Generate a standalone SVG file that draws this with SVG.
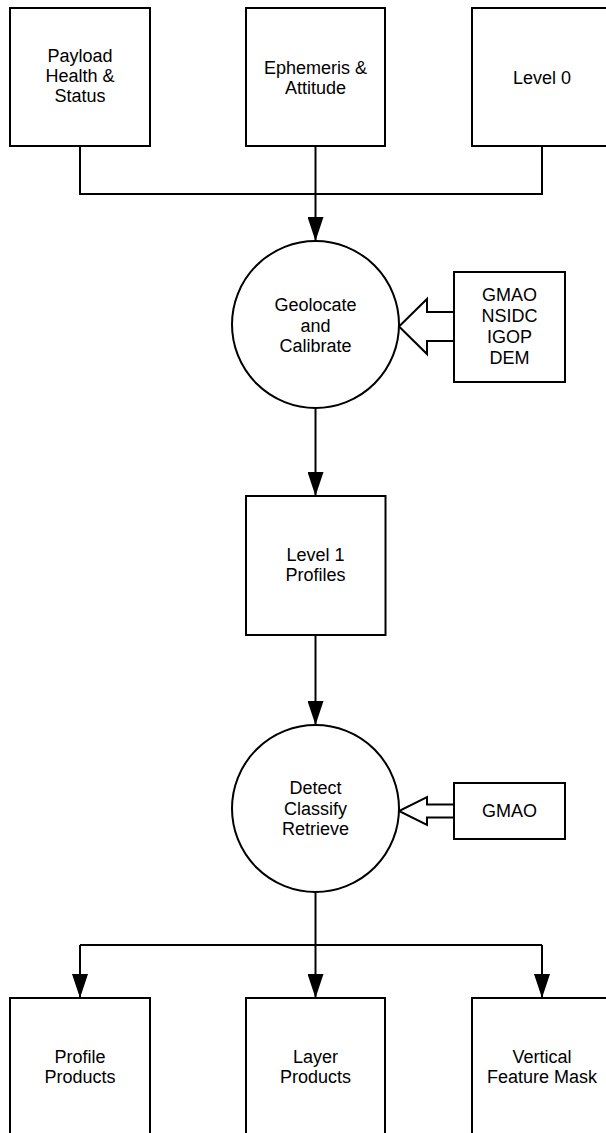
<svg xmlns="http://www.w3.org/2000/svg" width="606" height="1133" viewBox="0 0 606 1133">
<style>
.box{fill:#fff;stroke:#000;stroke-width:2}
.conn{fill:none;stroke:#000;stroke-width:2}
.blk{fill:#fff;stroke:#000;stroke-width:2;stroke-linejoin:miter}
text{font-family:"Liberation Sans",Arial,sans-serif;font-size:18px;fill:#000;text-anchor:middle}
</style>
<defs>
<marker id="ah" markerUnits="userSpaceOnUse" markerWidth="24" markerHeight="16" refX="24" refY="8" orient="auto">
<path d="M0,0 L24,8 L0,16 Z" fill="#000"/>
</marker>
</defs>
<rect width="606" height="1133" fill="#fff"/>
<g id="connectors">
<path class="conn" d="M80,146 V194 H542 V146"/>
<path class="conn" d="M315.5,146 V241" marker-end="url(#ah)"/>
<path class="conn" d="M315.5,408 V496" marker-end="url(#ah)"/>
<path class="conn" d="M315.5,635 V725" marker-end="url(#ah)"/>
<path class="conn" d="M315.5,892 V998" marker-end="url(#ah)"/>
<path class="conn" d="M80,945 H542"/>
<path class="conn" d="M80,945 V998" marker-end="url(#ah)"/>
<path class="conn" d="M542,945 V998" marker-end="url(#ah)"/>
<polygon class="blk" points="454,312 427,312 427,299 399,326.5 427,354 427,341 454,341"/>
<polygon class="blk" points="454,804.5 427,804.5 427,797 399,811 427,825 427,817.5 454,817.5"/>
</g>
<g id="payload">
<rect class="box" x="10" y="8" width="140" height="138"/>
<text x="80" y="62">Payload</text>
<text x="80" y="82">Health &amp;</text>
<text x="80" y="102">Status</text>
</g>
<g id="ephemeris">
<rect class="box" x="246" y="8" width="139" height="138"/>
<text x="315.5" y="74">Ephemeris &amp;</text>
<text x="315.5" y="94">Attitude</text>
</g>
<g id="level0">
<rect class="box" x="472" y="8" width="140" height="138"/>
<text x="542" y="84">Level 0</text>
</g>
<g id="geolocate">
<circle class="box" cx="315.5" cy="324.5" r="83.5"/>
<text x="315.5" y="311">Geolocate</text>
<text x="315.5" y="331.5">and</text>
<text x="315.5" y="352">Calibrate</text>
</g>
<g id="ancillary1">
<rect class="box" x="454" y="272" width="111" height="110"/>
<text x="509.5" y="301">GMAO</text>
<text x="509.5" y="322">NSIDC</text>
<text x="509.5" y="343">IGOP</text>
<text x="509.5" y="363.5">DEM</text>
</g>
<g id="level1">
<rect class="box" x="246" y="496" width="139.5" height="139"/>
<text x="315.5" y="561">Level 1</text>
<text x="315.5" y="581">Profiles</text>
</g>
<g id="detect">
<circle class="box" cx="315.5" cy="808.5" r="83.5"/>
<text x="315.5" y="794">Detect</text>
<text x="315.5" y="814.5">Classify</text>
<text x="315.5" y="835">Retrieve</text>
</g>
<g id="ancillary2">
<rect class="box" x="454" y="783" width="111" height="56"/>
<text x="509.5" y="817">GMAO</text>
</g>
<g id="profile">
<rect class="box" x="10" y="998" width="140" height="140"/>
<text x="80" y="1063">Profile</text>
<text x="80" y="1083">Products</text>
</g>
<g id="layer">
<rect class="box" x="246" y="998" width="139" height="140"/>
<text x="315.5" y="1063">Layer</text>
<text x="315.5" y="1083">Products</text>
</g>
<g id="vfm">
<rect class="box" x="472" y="998" width="140" height="140"/>
<text x="542" y="1063">Vertical</text>
<text x="542" y="1083">Feature Mask</text>
</g>
</svg>
